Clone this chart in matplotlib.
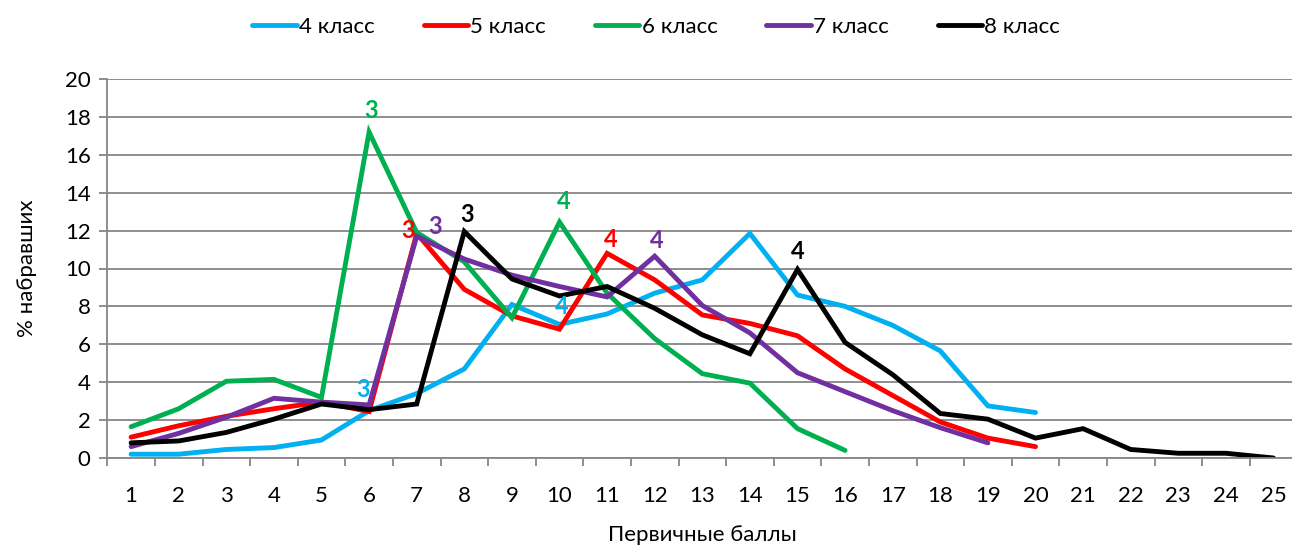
import numpy as np
import matplotlib.pyplot as plt

plt.rcParams['font.family'] = ['Lato', 'DejaVu Sans']

# Data: % of participants by primary score
scores = list(range(1, 26))
grade4 = [0.2, 0.2, 0.45, 0.55, 0.95, 2.5, 3.4, 4.7, 8.1, 7.05, 7.6, 8.7, 9.4, 11.85,
          8.6, 8.0, 7.0, 5.65, 2.75, 2.4]
grade5 = [1.1, 1.7, 2.2, 2.6, 2.95, 2.45, 11.85, 8.9, 7.5, 6.8, 10.8, 9.4, 7.55, 7.1,
          6.45, 4.7, 3.3, 1.9, 1.05, 0.6]
grade6 = [1.65, 2.6, 4.05, 4.15, 3.2, 17.2, 11.9, 10.35, 7.4, 12.45, 8.7, 6.3, 4.45, 3.95,
          1.55, 0.4]
grade7 = [0.6, 1.3, 2.15, 3.15, 2.95, 2.8, 11.7, 10.5, 9.65, 9.05, 8.5, 10.65, 8.05, 6.6,
          4.5, 3.5, 2.5, 1.6, 0.8]
grade8 = [0.8, 0.9, 1.35, 2.05, 2.85, 2.55, 2.85, 11.95, 9.45, 8.55, 9.05, 7.9, 6.5, 5.5,
          9.95, 6.1, 4.4, 2.35, 2.05, 1.05, 1.55, 0.45, 0.25, 0.25, 0.0]

series = [
    ('4 класс', grade4, '#00B0F0'),
    ('5 класс', grade5, '#FF0000'),
    ('6 класс', grade6, '#00B050'),
    ('7 класс', grade7, '#7030A0'),
    ('8 класс', grade8, '#000000'),
]

# grade marks shown above points: (series index, score, text, dx, dy) offsets in pixels
marks = [
    (0, 6, '3', -6, 21), (0, 10, '4', 2, 18),
    (1, 7, '3', -9, 3), (1, 11, '4', 4, 14),
    (2, 6, '3', 2, 22), (2, 10, '4', 4, 21),
    (3, 7, '3', 18, 10), (3, 12, '4', 2, 16),
    (4, 8, '3', 3, 17), (4, 15, '4', 0, 18),
]

W, H = 1292, 545
fig = plt.figure(figsize=(W / 100, H / 100), dpi=100)
ax = fig.add_axes([107.3 / W, (H - 458) / H, 1190 / W, (458 - 79) / H])

for name, vals, color in series:
    ax.plot(scores[:len(vals)], vals, color=color, lw=3.5, label=name,
            solid_capstyle='round', solid_joinstyle='miter')

for i, sc, txt, dx, dy in marks:
    name, vals, color = series[i]
    ax.annotate(txt, (sc, vals[sc - 1]), xytext=(dx, dy), textcoords='offset pixels',
                ha='center', va='center', fontsize=17, fontweight='bold', color=color)

ax.set_xlim(0.5, 25.5)
ax.set_ylim(0, 20)
ax.set_yticks(np.arange(0, 21, 2))
ax.set_xticks(np.arange(0.5, 26, 1))
ax.set_xticklabels([])
ax.set_xticks(scores, minor=True)
ax.set_xticklabels([str(s) for s in scores], minor=True)
ax.tick_params(axis='x', which='major', length=6, color='#868686', width=1.3)
ax.tick_params(axis='x', which='minor', length=0, pad=20, labelsize=16)
ax.tick_params(axis='y', length=6, color='#868686', width=1.3, labelsize=16, pad=6)

ax.grid(axis='y', color='#868686', lw=1.3)
ax.set_axisbelow(True)
for s in ['top', 'right']:
    ax.spines[s].set_visible(False)
for s in ['left', 'bottom']:
    ax.spines[s].set_color('#868686')
    ax.spines[s].set_linewidth(1.3)

ax.set_xlabel('Первичные баллы', fontsize=16, labelpad=14)
ax.set_ylabel('% набравших', fontsize=16, labelpad=20)

fig.legend(loc='upper center', bbox_to_anchor=(0.508, 1.005), ncol=5, frameon=False,
           fontsize=16, handlelength=2.0, handletextpad=0.1, columnspacing=2.2)

fig.savefig('out.png', dpi=100)
